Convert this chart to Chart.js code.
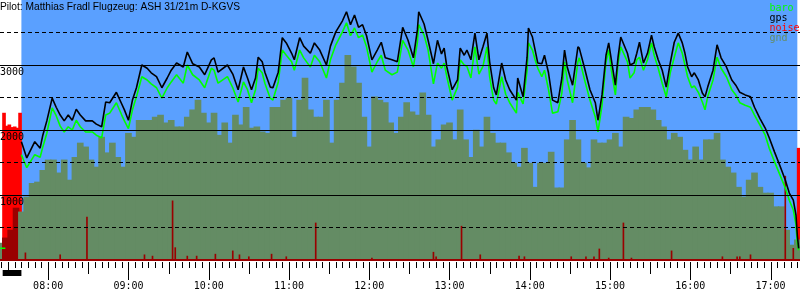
<!DOCTYPE html>
<html>
<head>
<meta charset="utf-8">
<script src="https://cdn.jsdelivr.net/npm/chart.js@4.4.1/dist/chart.umd.min.js"></script>
<style>
  html, body { margin: 0; padding: 0; background: #fff; }
  canvas { display: block; }
</style>
</head>
<body>
<canvas id="barogram" width="800" height="300"></canvas>
<script>
const title = 'Pilot: Matthias Fradl Flugzeug: ASH 31/21m D-KGVS';

// flight phases
const engineStart = '07:26';
const takeoff = '07:40';
const landing = '17:20';

// gps / baro altitude (m)
const times = [
  '07:24','07:28','07:32','07:40','07:44','07:50','07:54','07:56','07:59','08:03',
  '08:06','08:09','08:12','08:15','08:18','08:21','08:24','08:28','08:33','08:36',
  '08:40','08:43','08:46','08:51','08:55','08:57','09:00','09:03','09:06','09:10',
  '09:14','09:17','09:21','09:25','09:29','09:32','09:36','09:41','09:44','09:48',
  '09:53','09:57','10:02','10:04','10:07','10:14','10:18','10:22','10:26','10:29',
  '10:32','10:35','10:37','10:40','10:42','10:46','10:48','10:52','10:55','10:58',
  '11:02','11:04','11:08','11:11','11:16','11:19','11:23','11:28','11:31','11:35',
  '11:40','11:43','11:46','11:49','11:52','11:55','11:58','12:02','12:06','12:09',
  '12:12','12:17','12:21','12:25','12:29','12:33','12:36','12:37','12:41','12:44',
  '12:48','12:51','12:54','12:56','12:58','13:02','13:06','13:08','13:11','13:13',
  '13:16','13:19','13:22','13:25','13:28','13:30','13:33','13:35','13:39','13:42',
  '13:45','13:50','13:51','13:55','13:58','13:59','14:02','14:04','14:06','14:09',
  '14:11','14:14','14:17','14:21','14:24','14:26','14:28','14:32','14:36','14:37',
  '14:41','14:45','14:49','14:51','14:54','14:57','14:59','15:01','15:04','15:06',
  '15:08','15:13','15:15','15:18','15:20','15:22','15:25','15:28','15:31','15:33',
  '15:36','15:39','15:42','15:45','15:48','15:51','15:54','15:56','15:58','16:01',
  '16:03','16:06','16:09','16:11','16:13','16:17','16:20','16:23','16:27','16:31',
  '16:34','16:37','16:41','16:45','16:48','16:52','16:56','16:59','17:03','17:07',
  '17:11','17:14','17:17','17:19','17:20','17:21'
];
const gps = [
  null,null,null,1820,1570,1820,1720,1920,2140,2490,
  2350,2230,2140,2230,2150,2320,2230,2140,2140,2090,
  2050,2430,2420,2580,2400,2310,2150,2460,2650,3000,
  2950,2880,2820,2650,2800,2920,3030,2970,3200,3020,
  2970,2850,3080,3110,2890,3000,2860,2620,2970,2800,
  2620,2800,3120,3050,2890,2660,2650,2890,3420,3340,
  3180,3080,3420,3290,3180,3340,3230,3000,3290,3510,
  3680,3820,3620,3770,3580,3620,3450,3080,3230,3350,
  3110,3080,3050,3580,3380,3110,3540,3820,3630,3380,
  3020,3380,3170,3260,2970,2620,2770,3260,3150,3230,
  3080,3490,3080,3280,3490,3050,2650,2540,3030,2770,
  2620,2460,2800,2510,3120,3570,3430,3230,3030,3020,
  3150,2880,2460,2420,2800,3230,2970,2690,3280,3260,
  2950,2620,2420,2150,2540,3150,3340,3080,2690,3120,
  3430,3180,3000,3030,3180,3350,3030,3180,3460,3280,
  3080,2920,2660,3030,3350,3490,3340,3180,2970,2820,
  2880,2770,2570,2510,2660,2920,3310,3110,2970,2770,
  2690,2580,2540,2510,2350,2180,2030,1880,1660,1450,
  1230,1030,920,690,380,180
];
const baro = [
  180,180,null,1620,1420,1620,1580,1740,1950,2340,
  2220,2060,1970,2050,2000,2150,2050,1970,1970,1920,
  1880,2230,2260,2420,2230,2140,2020,2310,2510,2820,
  2770,2710,2650,2490,2650,2740,2850,2720,3000,2850,
  2770,2650,2950,2920,2720,2820,2650,2430,2740,2620,
  2420,2620,2950,2880,2720,2490,2460,2740,3230,3150,
  3050,2920,3230,3110,2970,3150,3050,2800,3080,3310,
  3510,3650,3450,3570,3420,3460,3280,2890,3050,3150,
  2920,2850,2890,3380,3230,2970,3350,3620,3460,3230,
  2710,3030,2950,3030,2820,2460,2660,3080,3000,2980,
  2800,3280,2860,2980,3280,2820,2460,2400,2820,2550,
  2420,2260,2580,2400,2920,3340,3230,3080,2950,2820,
  2920,2620,2260,2280,2570,3050,2770,2420,3050,3110,
  2770,2460,2200,1970,2380,3050,3230,2920,2540,3030,
  3280,3050,2800,2880,3080,3120,2920,3080,3340,3150,
  2950,2720,2510,2880,3120,3340,3180,3000,2820,2650,
  2680,2580,2430,2310,2510,2770,3120,2950,2820,2620,
  2540,2420,2380,2350,2230,2080,1920,1720,1510,1310,
  1110,920,770,540,260,150
];

// ground elevation below the glider, one value every 4 minutes from 07:24
const gndStart = '07:24';
const gndStep = 4;
const gnd = [
  260,340,460,800,740,970,1180,1200,1380,1540,
  1540,1340,1540,1230,1580,1800,1740,1540,1430,1890,
  1650,1800,1580,1430,1950,1890,2150,2150,2150,2200,
  2230,2110,2150,2050,2050,2200,2310,2460,2260,2110,
  2260,1920,2110,1800,2230,2080,2350,2030,2050,1970,
  1950,2350,2350,2460,2490,1890,2460,2800,2310,2200,
  2200,2460,1800,2460,2720,3150,2970,2720,2200,1740,
  2510,2460,2420,2110,1950,2200,2420,2280,2230,2570,
  2230,1740,1850,2080,2110,1850,2310,1850,1580,2000,
  1740,2200,1950,1800,1800,1650,1490,1430,1720,1490,
  1120,1490,1490,1660,1110,1110,1850,2150,1850,1490,
  1420,1850,1800,1800,1850,1950,1740,2200,2180,2310,
  2350,2350,2310,2150,2050,1850,1950,1890,1690,1540,
  1740,1540,1850,1850,1950,1540,1430,1340,1120,970,
  1230,1340,1120,1030,1030,820,820,460,230,310
];

// noise level
const noiseTimes = [
  '07:43','08:09','08:29','09:12','09:18','09:33','09:35','09:44','09:51','10:05',
  '10:18','10:23','10:30','10:47','10:58','11:20','12:02','12:48','12:50','13:09',
  '13:23','13:52','13:56','14:31','14:42','14:48','14:52','14:59','15:10','15:16',
  '15:46','16:24','16:35','16:37','16:45','17:11','17:17'
];
const noise = [
  110,80,660,80,60,910,190,60,60,90,
  140,80,50,90,50,570,30,120,50,520,
  80,60,50,50,50,50,170,30,570,30,
  140,50,50,50,80,1290,180
];
// engine noise (climb and landing roll)
const engineTimes = ['07:27','07:29','07:31','07:33','07:35','07:37','07:39','17:21'];
const engineNoise = [2260,2060,2080,2040,2050,2030,2260,1720];

const BLUE = '#5aa0ff';
const OLIVE = '#648c64';
const DARKRED = '#9a0000';
const MONO = 'DejaVu Sans Mono';

const toMin = s => { const [h, m] = s.split(':').map(Number); return h * 60 + m; };
const pts = (ts, vs) => ts.map((t, i) => ({ x: typeof t === 'number' ? t : toMin(t), y: vs[i] }));
const gndTimes = gnd.map((_, i) => toMin(gndStart) + i * gndStep);
const hhmm = v => String(Math.floor(v / 60)).padStart(2, '0') + ':' + String(v % 60).padStart(2, '0');

const barogram = {
  id: 'barogram',
  beforeDraw(chart) {
    const { ctx, chartArea: a, scales: { x } } = chart;
    ctx.save();
    ctx.fillStyle = '#fff';
    ctx.fillRect(0, 0, chart.width, chart.height);
    // flight period
    const x0 = x.getPixelForValue(toMin(takeoff));
    const x1 = x.getPixelForValue(toMin(landing));
    ctx.fillStyle = BLUE;
    ctx.fillRect(x0, a.top, x1 - x0, a.bottom - a.top);
    ctx.restore();
  },
  afterDraw(chart) {
    const { ctx, chartArea: a, scales: { x } } = chart;
    ctx.save();
    // time ticks: 5 min short, 30 min middle, full hour long
    ctx.strokeStyle = '#000';
    ctx.lineWidth = 1;
    ctx.beginPath();
    x.ticks.forEach(t => {
      const px = Math.round(x.getPixelForValue(t.value)) + 0.5;
      const len = t.value % 60 === 0 ? 18 : t.value % 30 === 0 ? 12 : 6;
      ctx.moveTo(px, a.bottom + 2);
      ctx.lineTo(px, a.bottom + 2 + len);
    });
    ctx.stroke();

    // engine run marker
    const e0 = x.getPixelForValue(toMin(engineStart));
    const e1 = x.getPixelForValue(toMin(takeoff));
    ctx.fillStyle = '#000';
    ctx.fillRect(e0, a.bottom + 10, e1 - e0, 6);

    // title
    ctx.fillStyle = '#000';
    ctx.font = '10.2px "Liberation Sans", Arial, sans-serif';
    ctx.textBaseline = 'alphabetic';
    ctx.textAlign = 'left';
    ctx.fillText(title, 0, 10);

    // legend
    ctx.font = '10px "' + MONO + '"';
    ['baro', 'gps', 'noise', 'gnd'].forEach((name, i) => {
      const ds = chart.data.datasets.find(d => d.label === name);
      ctx.fillStyle = ds.borderColor;
      ctx.fillText(name, 769.5, 11 + i * 10);
    });
    ctx.restore();
  }
};

new Chart(document.getElementById('barogram'), {
  type: 'bar',
  data: {
    datasets: [
      {
        type: 'line', label: 'gps', data: pts(times, gps),
        borderColor: '#000', borderWidth: 1.6, pointRadius: 0, tension: 0,
        borderJoinStyle: 'bevel', spanGaps: false, order: 1
      },
      {
        type: 'line', label: 'baro', data: pts(times, baro),
        borderColor: '#00ff00', borderWidth: 1.6, pointRadius: 0, tension: 0,
        borderJoinStyle: 'bevel', spanGaps: false, order: 2
      },
      {
        label: 'noise', data: pts(noiseTimes, noise),
        backgroundColor: DARKRED, borderColor: '#ff0000', borderWidth: 0,
        barThickness: 1, stack: 'all', order: 3
      },
      {
        label: 'gnd', data: pts(gndTimes, gnd),
        backgroundColor: c => {
          const t = c.raw && c.raw.x;
          return (t >= toMin(engineStart) && t < toMin(takeoff)) ? DARKRED : OLIVE;
        },
        borderColor: OLIVE, borderWidth: 0, barThickness: 6, stack: 'all', order: 4
      },
      {
        label: 'engine', data: pts(engineTimes, engineNoise),
        backgroundColor: '#ff0000', borderColor: '#ff0000', borderWidth: 0,
        barThickness: 3, stack: 'all', order: 5
      }
    ]
  },
  options: {
    responsive: false,
    animation: false,
    devicePixelRatio: 1,
    layout: { padding: 0 },
    plugins: {
      legend: { display: false },
      tooltip: { enabled: false }
    },
    scales: {
      x: {
        type: 'linear', min: 444, max: 1042, offset: false, stacked: true,
        grid: { drawOnChartArea: false, drawTicks: true, tickLength: 18, tickColor: 'transparent', offset: false },
        border: { color: DARKRED, width: 2, z: 1 },
        ticks: {
          stepSize: 5, includeBounds: false, autoSkip: false, maxRotation: 0, minRotation: 0,
          padding: 2, color: '#000', font: { family: MONO, size: 10 },
          callback: v => v % 60 === 0 ? hhmm(v) : ''
        },
        afterFit: s => { s.height = 40; s.paddingLeft = 0; s.paddingRight = 0; }
      },
      y: {
        min: 0, max: 4000, stacked: false,
        grid: {
          drawTicks: false, lineWidth: 1, z: 1,
          color: c => (c.tick && c.tick.value > 0 && c.tick.value < 4000) ? '#000' : 'rgba(0,0,0,0)'
        },
        border: {
          display: false,
          dash: c => (c.tick && c.tick.value % 1000 !== 0) ? [4, 3] : []
        },
        ticks: {
          stepSize: 500, mirror: true, padding: 0, labelOffset: 7, z: 1,
          color: '#000', font: { family: MONO, size: 10 },
          callback: v => (v % 1000 === 0 && v > 0 && v < 4000) ? String(v) : ''
        },
        afterFit: s => { s.width = 0; s.paddingTop = 0; s.paddingBottom = 0; }
      }
    }
  },
  plugins: [barogram]
});
</script>
</body>
</html>
